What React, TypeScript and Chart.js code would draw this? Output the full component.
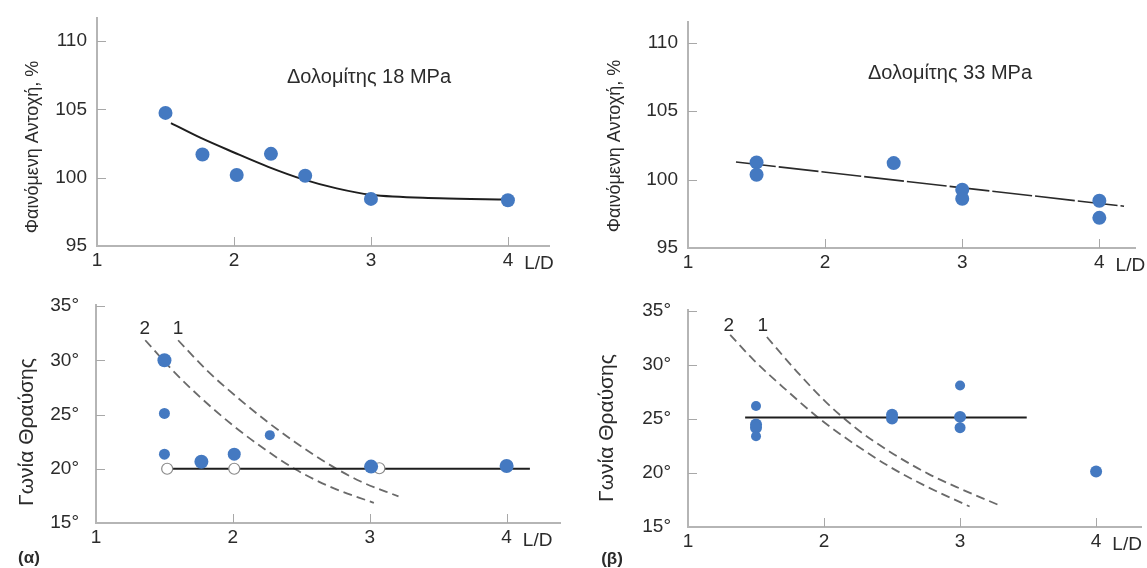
import React, { useEffect, useRef } from 'react';
import { Chart, registerables } from 'chart.js';

Chart.register(...registerables);

// ---------- data ----------
const xTicks = [1, 2, 3, 4];
const strengthTicks = [95, 100, 105, 110];
const angleTicks = [15, 20, 25, 30, 35];

// (α) top: Δολομίτης 18 MPa
const d18X = [1.5, 1.77, 2.02, 2.27, 2.52, 3.0, 4.0];
const d18Y = [104.75, 101.7, 100.2, 101.75, 100.15, 98.45, 98.35];
const d18FitX = [1.54, 1.75, 2.0, 2.25, 2.5, 2.75, 3.0, 3.5, 4.0];
const d18FitY = [104.0, 102.95, 101.85, 100.8, 99.9, 99.22, 98.75, 98.5, 98.4];

// (β) top: Δολομίτης 33 MPa
const d33X = [1.5, 1.5, 2.5, 3.0, 3.0, 4.0, 4.0];
const d33Y = [101.25, 100.35, 101.2, 99.25, 98.6, 98.45, 97.2];
const d33FitX = [1.35, 4.18];
const d33FitY = [101.28, 98.05];

// (α) bottom: angle of fracture
const angAX = [1.5, 1.5, 1.5, 1.77, 2.01, 2.27, 3.01, 4.0];
const angAY = [30.0, 25.1, 21.35, 20.65, 21.35, 23.1, 20.2, 20.25];
const angAOpenX = [1.52, 2.01, 3.07];
const angAOpenY = [20.0, 20.0, 20.05];
const angAMeanX = [1.56, 4.17];
const angAMeanY = [20.0, 20.0];
const angACurve2X = [1.36, 1.55, 1.77, 2.0, 2.2, 2.45, 2.7, 3.03];
const angACurve2Y = [31.85, 29.2, 26.5, 24.0, 22.1, 20.0, 18.4, 16.85];
const angACurve1X = [1.6, 1.82, 2.04, 2.255, 2.45, 2.69, 2.93, 3.21];
const angACurve1Y = [31.85, 28.95, 26.5, 24.3, 22.5, 20.5, 18.85, 17.45];

// (β) bottom
const angBX = [1.5, 1.5, 1.5, 1.5, 2.5, 2.5, 3.0, 3.0, 3.0, 4.0];
const angBY = [26.2, 24.5, 24.2, 23.4, 25.4, 25.05, 28.1, 25.2, 24.2, 20.15];
const angBMeanX = [1.42, 3.49];
const angBMeanY = [25.15, 25.15];
const angBCurve2X = [1.31, 1.48, 1.73, 1.97, 2.21, 2.48, 2.73, 3.07];
const angBCurve2Y = [32.8, 30.5, 27.6, 25.0, 22.8, 20.6, 18.9, 16.9];
const angBCurve1X = [1.58, 1.8, 2.02, 2.24, 2.48, 2.77, 3.01, 3.29];
const angBCurve1Y = [32.6, 29.4, 26.5, 24.1, 22.0, 19.9, 18.5, 17.0];

// curve labels (data coordinates)
const curveLabelTexts = ['2', '1'];
const angALabelX = [1.356, 1.6];
const angALabelY = [32.9, 32.9];
const angBLabelX = [1.3, 1.55];
const angBLabelY = [33.6, 33.6];

// ---------- styles ----------
const FONT = '"Liberation Sans", Arial, sans-serif';
const TICKFONT = '"Liberation Sans Narrow", "Liberation Sans", Arial, sans-serif';
const BLUE = '#4479c1';
const AXIS = '#b5b5b5';
const TICKC = '#a8a8a8';
const TEXT = '#2b2b2b';
const DASHC = '#6a6a6a';

const pts = (xs: number[], ys: number[]) => xs.map((x, i) => ({ x, y: ys[i] }));

const pointSet = (xs: number[], ys: number[], r: number | number[], open = false) => ({
  data: pts(xs, ys),
  showLine: false,
  pointRadius: r,
  pointBackgroundColor: open ? '#ffffff' : BLUE,
  pointBorderColor: open ? '#8a8a8a' : BLUE,
  pointBorderWidth: open ? 1.2 : 0,
});

const lineSet = (xs: number[], ys: number[], color: string, width: number, dash: number[] = [], smooth = false) => ({
  data: pts(xs, ys),
  showLine: true,
  pointRadius: 0,
  borderColor: color,
  borderWidth: width,
  borderDash: dash,
  cubicInterpolationMode: smooth ? 'monotone' : 'default',
  tension: smooth ? 0.4 : 0,
});

type TextItem = { text: string; x: number; y: number; size: number; rotate?: boolean; bold?: boolean };

type PanelCfg = {
  box: { x: number; y: number; w: number; h: number };
  area: { l: number; t: number; r: number; b: number };
  xMax: number;
  yMin: number;
  yMax: number;
  yTicks: number[];
  yFmt: (v: number) => string;
  yPad: number;
  datasets: any[];
  texts: TextItem[];
  labels?: { xs: number[]; ys: number[] };
};

const decor = (cfg: PanelCfg) => ({
  id: 'decor',
  afterDraw(chart: any) {
    const ctx = chart.ctx as CanvasRenderingContext2D;
    const xs = chart.scales.x;
    const ys = chart.scales.y;
    const a = chart.chartArea;
    ctx.save();
    ctx.strokeStyle = TICKC;
    ctx.lineWidth = 1;
    xTicks.forEach((v) => {
      if (v === xs.min) return;
      const px = Math.round(xs.getPixelForValue(v)) + 0.5;
      ctx.beginPath();
      ctx.moveTo(px, a.bottom);
      ctx.lineTo(px, a.bottom - 9);
      ctx.stroke();
    });
    cfg.yTicks.forEach((v) => {
      if (v === ys.min || v > ys.max) return;
      const py = Math.round(ys.getPixelForValue(v)) + 0.5;
      ctx.beginPath();
      ctx.moveTo(a.left, py);
      ctx.lineTo(a.left + 9, py);
      ctx.stroke();
    });
    ctx.fillStyle = TEXT;
    ctx.textAlign = 'center';
    ctx.textBaseline = 'middle';
    ctx.font = `19px ${TICKFONT}`;
    ctx.fillText('L/D', xs.getPixelForValue(4) + 31, a.bottom + 18);
    if (cfg.labels) {
      cfg.labels.xs.forEach((lx, i) => {
        ctx.fillText(curveLabelTexts[i], xs.getPixelForValue(lx), ys.getPixelForValue(cfg.labels!.ys[i]));
      });
    }
    for (const t of cfg.texts) {
      ctx.font = `${t.bold ? 'bold ' : ''}${t.size}px ${FONT}`;
      const x = t.x - cfg.box.x;
      const y = t.y - cfg.box.y;
      if (t.rotate) {
        ctx.save();
        ctx.translate(x, y);
        ctx.rotate(-Math.PI / 2);
        ctx.fillText(t.text, 0, 0);
        ctx.restore();
      } else {
        ctx.fillText(t.text, x, y);
      }
    }
    ctx.restore();
  },
});

function buildConfig(cfg: PanelCfg): any {
  const { box, area } = cfg;
  const yWidth = area.l - box.x;
  const xHeight = box.y + box.h - area.b;
  return {
    type: 'scatter',
    data: { datasets: cfg.datasets },
    options: {
      animation: false,
      responsive: false,
      devicePixelRatio: 1,
      events: [],
      layout: { padding: { left: 0, top: area.t - box.y, right: box.x + box.w - area.r, bottom: 0 } },
      plugins: { legend: { display: false }, tooltip: { enabled: false } },
      scales: {
        x: {
          type: 'linear',
          min: 1,
          max: cfg.xMax,
          grid: { display: false, drawTicks: false },
          border: { display: true, color: AXIS, width: 2 },
          ticks: { font: { family: TICKFONT, size: 19 }, color: TEXT, padding: 3, maxRotation: 0, autoSkip: false },
          afterBuildTicks: (s: any) => {
            s.ticks = xTicks.map((v) => ({ value: v }));
          },
          afterFit: (s: any) => {
            s.height = xHeight;
            s.paddingLeft = 0;
            s.paddingRight = 0;
          },
        },
        y: {
          type: 'linear',
          min: cfg.yMin,
          max: cfg.yMax,
          grid: { display: false, drawTicks: false },
          border: { display: true, color: AXIS, width: 2 },
          ticks: {
            font: { family: TICKFONT, size: 19 },
            color: TEXT,
            padding: cfg.yPad,
            autoSkip: false,
            callback: (v: any) => cfg.yFmt(Number(v)),
          },
          afterBuildTicks: (s: any) => {
            s.ticks = cfg.yTicks.map((v) => ({ value: v }));
          },
          afterFit: (s: any) => {
            s.width = yWidth;
            s.paddingTop = 0;
            s.paddingBottom = 0;
          },
        },
      },
    },
    plugins: [decor(cfg)],
  };
}

const strengthFmt = (v: number) => String(v);
const angleFmt = (v: number) => `${v}°`;

const panels: PanelCfg[] = [
  {
    box: { x: 0, y: 0, w: 585, h: 290 },
    area: { l: 97, t: 18, r: 549, b: 246 },
    xMax: 4.3,
    yMin: 95,
    yMax: 111.7,
    yTicks: strengthTicks,
    yFmt: strengthFmt,
    yPad: 10,
    datasets: [pointSet(d18X, d18Y, 7), lineSet(d18FitX, d18FitY, '#1e1e1e', 2, [], true)],
    texts: [
      { text: 'Δολομίτης 18 MPa', x: 369, y: 77, size: 20 },
      { text: 'Φαινόμενη Αντοχή, %', x: 33, y: 147, size: 18, rotate: true },
    ],
  },
  {
    box: { x: 585, y: 0, w: 562, h: 290 },
    area: { l: 688, t: 22, r: 1135, b: 248 },
    xMax: 4.26,
    yMin: 95,
    yMax: 111.5,
    yTicks: strengthTicks,
    yFmt: strengthFmt,
    yPad: 10,
    datasets: [pointSet(d33X, d33Y, 7), lineSet(d33FitX, d33FitY, '#2a2a2a', 1.6, [40, 3])],
    texts: [
      { text: 'Δολομίτης 33 MPa', x: 950, y: 73, size: 20 },
      { text: 'Φαινόμενη Αντοχή, %', x: 615, y: 146, size: 18, rotate: true },
    ],
  },
  {
    box: { x: 0, y: 290, w: 585, h: 278 },
    area: { l: 96, t: 305, r: 560, b: 523 },
    xMax: 4.39,
    yMin: 15,
    yMax: 35.1,
    yTicks: angleTicks,
    yFmt: angleFmt,
    yPad: 17,
    datasets: [
      pointSet(angAX, angAY, [7, 5.5, 5.5, 7, 6.5, 5, 7, 7]),
      pointSet(angAOpenX, angAOpenY, 5.5, true),
      lineSet(angAMeanX, angAMeanY, '#1e1e1e', 2),
      lineSet(angACurve2X, angACurve2Y, DASHC, 1.8, [9, 5], true),
      lineSet(angACurve1X, angACurve1Y, DASHC, 1.8, [9, 5], true),
    ],
    texts: [
      { text: 'Γωνία Θραύσης', x: 27, y: 432, size: 21, rotate: true },
      { text: '(α)', x: 29, y: 558, size: 17, bold: true },
    ],
    labels: { xs: angALabelX, ys: angALabelY },
  },
  {
    box: { x: 585, y: 290, w: 562, h: 278 },
    area: { l: 688, t: 310, r: 1144, b: 527 },
    xMax: 4.33,
    yMin: 15,
    yMax: 35.1,
    yTicks: angleTicks,
    yFmt: angleFmt,
    yPad: 17,
    datasets: [
      pointSet(angBX, angBY, [5, 6, 6, 5, 6, 6, 5, 6, 5.5, 6]),
      lineSet(angBMeanX, angBMeanY, '#1e1e1e', 2),
      lineSet(angBCurve2X, angBCurve2Y, DASHC, 1.8, [9, 5], true),
      lineSet(angBCurve1X, angBCurve1Y, DASHC, 1.8, [9, 5], true),
    ],
    texts: [
      { text: 'Γωνία Θραύσης', x: 607, y: 428, size: 21, rotate: true },
      { text: '(β)', x: 612, y: 559, size: 17, bold: true },
    ],
    labels: { xs: angBLabelX, ys: angBLabelY },
  },
];

function Panel({ cfg }: { cfg: PanelCfg }) {
  const ref = useRef<HTMLCanvasElement>(null);
  useEffect(() => {
    const chart = new Chart(ref.current as HTMLCanvasElement, buildConfig(cfg));
    return () => chart.destroy();
  }, [cfg]);
  return (
    <canvas
      ref={ref}
      width={cfg.box.w}
      height={cfg.box.h}
      style={{ position: 'absolute', left: cfg.box.x, top: cfg.box.y, width: cfg.box.w, height: cfg.box.h }}
    />
  );
}

export default function App() {
  return (
    <div style={{ position: 'absolute', left: 0, top: 0, width: 1147, height: 568, background: '#ffffff', overflow: 'hidden' }}>
      {panels.map((p, i) => (
        <Panel key={i} cfg={p} />
      ))}
    </div>
  );
}
